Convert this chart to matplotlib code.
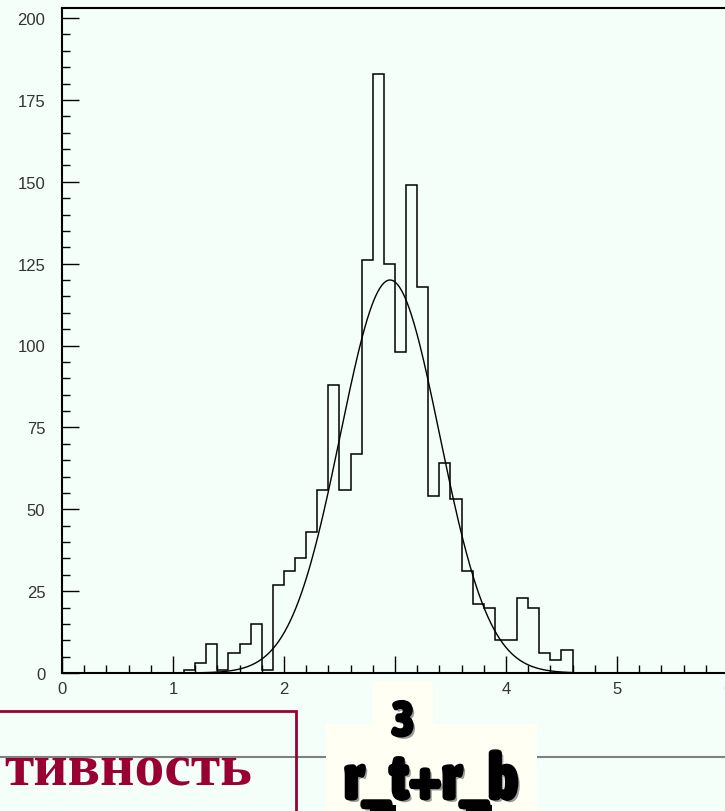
import numpy as np
import matplotlib
matplotlib.use("Agg")
import matplotlib.pyplot as plt
from matplotlib.patches import Rectangle
from matplotlib.lines import Line2D
import matplotlib.patheffects as pe
import matplotlib.font_manager as fm

# ---- data ----
bin_edges = [1.1, 1.2, 1.3, 1.4, 1.5, 1.6, 1.7, 1.8, 1.9, 2.0, 2.1, 2.2, 2.3, 2.4,
             2.5, 2.6, 2.7, 2.8, 2.9, 3.0, 3.1, 3.2, 3.3, 3.4, 3.5, 3.6, 3.7, 3.8,
             3.9, 4.0, 4.1, 4.2, 4.3, 4.4, 4.5, 4.6]
counts = [1, 3, 9, 1, 6, 9, 15, 1, 27, 31, 35, 43, 56, 88, 56, 67, 126, 183,
          125, 98, 149, 118, 54, 64, 53, 31, 21, 20, 10, 10, 23, 20, 6, 4, 7]
fit_amp = 120.0
fit_mean = 2.955
fit_sigma = 0.447
x_ticklabels = ["0", "1", "2", "3", "4", "5", "6"]
y_ticklabels = ["0", "25", "50", "75", "100", "125", "150", "175", "200"]

W, H = 725, 812
BG = "#F5FFFA"
MAROON = "#990033"

def fx(x):
    return x / W

def fy(y):
    return 1 - y / H

# find a condensed / narrow bold font if one is installed
def find_condensed():
    best = None
    for f in fm.fontManager.ttflist:
        name = f.name.lower()
        fname = f.fname.lower()
        narrow = ("condensed" in name or "narrow" in name or "condensed" in fname
                  or "narrow" in fname or f.stretch in ("condensed", "semi-condensed",
                                                         "extra-condensed", "ultra-condensed"))
        if not narrow:
            continue
        w = f.weight if isinstance(f.weight, int) else {"bold": 700, "normal": 400}.get(f.weight, 400)
        score = abs(w - 800)
        if "cjk" in name:
            continue
        if best is None or score < best[0]:
            best = (score, f.fname)
    return best[1] if best else None

cond = find_condensed()
if cond:
    fp3 = fm.FontProperties(fname=cond, size=35)
    fpr = fm.FontProperties(fname=cond, size=46)
else:
    fp3 = fm.FontProperties(family="DejaVu Sans", weight="bold", size=30)
    fpr = fm.FontProperties(family="DejaVu Sans", weight="bold", size=30)

fig = plt.figure(figsize=(W / 100, H / 100), dpi=100, facecolor=BG)
ax = fig.add_axes([fx(62), fy(674), 666 / W, 665 / H])
ax.set_facecolor(BG)

ax.stairs(counts, bin_edges, color="black", lw=1.1)
xf = np.linspace(bin_edges[0], bin_edges[-1], 400)
ax.plot(xf, fit_amp * np.exp(-0.5 * ((xf - fit_mean) / fit_sigma) ** 2),
        color="black", lw=1.0)

ax.set_xlim(0, 6)
ax.set_ylim(0, 665 / 3.275)
ax.set_xticks(range(len(x_ticklabels)))
ax.set_xticklabels(x_ticklabels)
ax.set_yticks([25 * i for i in range(len(y_ticklabels))])
ax.set_yticklabels(y_ticklabels)
ax.set_xticks(np.arange(0, 6.01, 0.2), minor=True)
ax.set_yticks(np.arange(0, 201, 5), minor=True)

for s in ["left", "bottom", "top"]:
    ax.spines[s].set_linewidth(1.5)
    ax.spines[s].set_color("black")
ax.spines["right"].set_visible(False)

ax.tick_params(which="both", direction="in", top=False, right=False,
               colors="black", labelcolor="#333333", width=1.0)
ax.tick_params(which="major", length=12)
ax.tick_params(which="minor", length=6)
ax.tick_params(axis="y", pad=12)
ax.tick_params(axis="x", pad=6)
for lab in ax.get_xticklabels() + ax.get_yticklabels():
    lab.set_fontfamily("Liberation Sans")
    lab.set_fontsize(12)

# ---- bottom decorations ----
fig.add_artist(Line2D([0, 1], [fy(757.7), fy(757.7)], color="#808080", lw=1.5,
                      transform=fig.transFigure, zorder=3))
fig.add_artist(Rectangle((fx(-10), fy(840)), 306 / W, 128 / H,
                         transform=fig.transFigure, facecolor="none",
                         edgecolor=MAROON, lw=2, zorder=4))
fig.text(fx(252), fy(786), "тивность", ha="right", va="baseline",
         fontsize=43, fontweight="bold", family=["Liberation Serif", "DejaVu Serif"],
         color=MAROON, zorder=5)

BOX = "#FFFFF4"
fig.add_artist(Rectangle((fx(371.7), fy(725)), 61 / W, 43 / H,
                         transform=fig.transFigure, facecolor=BOX,
                         edgecolor="none", zorder=6))
fig.add_artist(Rectangle((fx(326), fy(830)), 211 / W, 105 / H,
                         transform=fig.transFigure, facecolor=BOX,
                         edgecolor="none", zorder=6))

effects = [pe.withSimplePatchShadow(offset=(2, -2), shadow_rgbFace="#9a9a9a", alpha=1.0),
           pe.withStroke(linewidth=2, foreground="black")]
fig.text(fx(403), fy(736.7), "3", ha="center", va="baseline", fontproperties=fp3,
         color="black", zorder=7, path_effects=effects)
fig.text(fx(431), fy(800), "r_t+r_b", ha="center", va="baseline", fontproperties=fpr,
         color="black", zorder=7, path_effects=effects)
for x0 in (370, 466):
    fig.add_artist(Rectangle((fx(x0), fy(830)), 26 / W, 24 / H,
                             transform=fig.transFigure, facecolor="black",
                             edgecolor="none", zorder=8))

fig.savefig("out.png", dpi=100, facecolor=BG)
